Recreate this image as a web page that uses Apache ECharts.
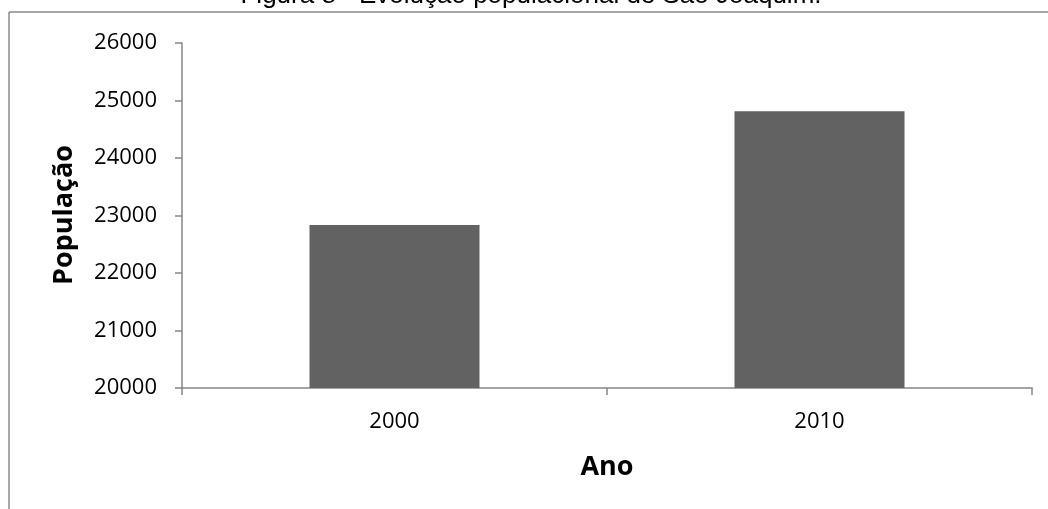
<!DOCTYPE html>
<html>
<head>
<meta charset="utf-8">
<script src="https://cdn.jsdelivr.net/npm/echarts@6/dist/echarts.min.js"></script>
<style>
html,body{margin:0;padding:0;background:#fff;}
#c{width:1048px;height:509px;}
</style>
</head>
<body>
<div id="c"></div>
<script>
const title = 'Figura 8 - Evolução populacional de São Joaquim.';
const categories = ['2000', '2010'];
const populacao = [22836, 24812];
const yMin = 20000, yMax = 26000, yStep = 1000;
const xAxisName = 'Ano';
const yAxisName = 'População';

const chart = echarts.init(document.getElementById('c'), null, {renderer: 'canvas'});
const axisColor = '#868686';
const labelFont = 'Open Sans';

chart.setOption({
  animation: false,
  backgroundColor: '#fff',
  grid: {left: 182, right: 16, top: 43, bottom: 121, containLabel: false},
  graphic: [
    {type: 'text', x: 531, y: -4, style: {text: title, font: '26px "Liberation Sans", Arial, sans-serif', fill: '#000', align: 'center', verticalAlign: 'middle'}},
    {type: 'rect', shape: {x: 0, y: 12, width: 1048, height: 0.5}, style: {fill: '#fff'}},
    {type: 'line', shape: {x1: 9, y1: 12, x2: 1048, y2: 12}, style: {stroke: '#8a8a8a', lineWidth: 1.5}},
    {type: 'line', shape: {x1: 9, y1: 12, x2: 9, y2: 509}, style: {stroke: '#8a8a8a', lineWidth: 1.5}},
    {type: 'text', x: 64, y: 215, rotation: Math.PI / 2, style: {text: yAxisName, font: 'bold 27px "Open Sans", sans-serif', fill: '#000', align: 'center', verticalAlign: 'middle'}},
    {type: 'text', x: 607, y: 467, style: {text: xAxisName, font: 'bold 27px "Open Sans", sans-serif', fill: '#000', align: 'center', verticalAlign: 'middle'}}
  ],
  xAxis: {
    type: 'category',
    data: categories,
    axisLine: {lineStyle: {color: axisColor, width: 1.5}},
    axisTick: {show: true, alignWithLabel: false, length: 7, lineStyle: {color: axisColor, width: 1.5}},
    axisLabel: {color: '#000', fontFamily: labelFont, fontSize: 22, margin: 23}
  },
  yAxis: {
    type: 'value',
    min: yMin, max: yMax, interval: yStep,
    axisLine: {show: true, lineStyle: {color: axisColor, width: 1.5}},
    axisTick: {show: true, length: 7, lineStyle: {color: axisColor, width: 1.5}},
    splitLine: {show: false},
    axisLabel: {color: '#000', fontFamily: labelFont, fontSize: 22, margin: 25, formatter: v => String(v)}
  },
  series: [{
    type: 'bar',
    data: populacao,
    barWidth: '40%',
    itemStyle: {color: '#626262'}
  }]
});
</script>
</body>
</html>
